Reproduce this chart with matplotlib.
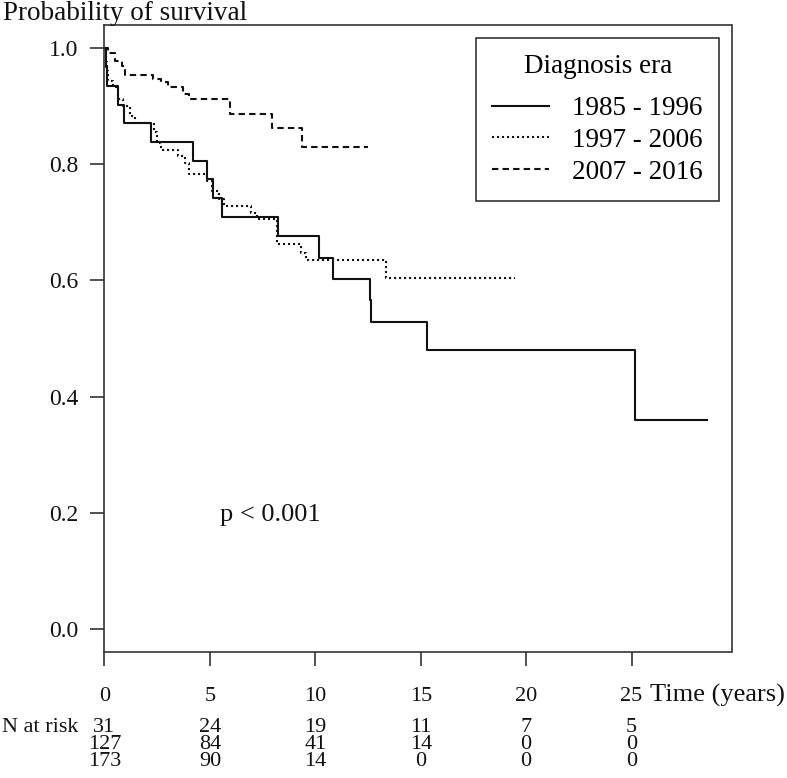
import matplotlib
matplotlib.use("Agg")
import matplotlib.pyplot as plt
from matplotlib.lines import Line2D

plt.rcParams['font.family'] = ['Liberation Serif', 'DejaVu Serif']
plt.rcParams['lines.scale_dashes'] = False

# ---- data ----
times_1985 = [0, 0.05, 0.12, 0.66, 0.93, 2.2, 4.18, 4.88, 5.13, 5.59, 8.25,
              10.17, 10.85, 12.58, 12.63, 15.32, 25.15, 28.58]
surv_1985 = [1.0, 0.968, 0.935, 0.903, 0.871, 0.839, 0.806, 0.774, 0.742, 0.710,
             0.677, 0.639, 0.603, 0.566, 0.528, 0.480, 0.360, 0.360]

times_1997 = [0, 0.05, 0.1, 0.18, 0.4, 0.66, 0.9, 1.2, 1.45, 2.35, 2.5, 2.7, 3.5,
              3.8, 4.0, 4.85, 5.1, 5.45, 5.65, 6.95, 7.25, 8.2, 9.3, 9.55, 13.35, 19.46]
surv_1997 = [1.0, 0.976, 0.96, 0.944, 0.933, 0.913, 0.90, 0.883, 0.871, 0.855, 0.837,
             0.825, 0.814, 0.803, 0.783, 0.771, 0.754, 0.740, 0.728, 0.717, 0.705,
             0.662, 0.648, 0.635, 0.604, 0.604]

times_2007 = [0, 0.18, 0.5, 0.81, 0.97, 2.32, 2.7, 3.03, 3.7, 4.0, 5.95, 7.93, 9.35, 12.51]
surv_2007 = [1.0, 0.992, 0.978, 0.970, 0.954, 0.947, 0.941, 0.933, 0.922, 0.912,
             0.886, 0.863, 0.829, 0.829]

era_labels = ["1985 - 1996", "1997 - 2006", "2007 - 2016"]
x_ticks = [0, 5, 10, 15, 20, 25]
y_ticks = [0.0, 0.2, 0.4, 0.6, 0.8, 1.0]
risk_1985 = [31, 24, 19, 11, 7, 5]
risk_1997 = [127, 84, 41, 14, 0, 0]
risk_2007 = [173, 90, 14, 0, 0, 0]

# ---- figure ----
W, H = 787, 778
fig = plt.figure(figsize=(W / 100, H / 100), dpi=100)
L, R, T, B = 104.5, 731.5, 25, 652
ax = fig.add_axes([L / W, (H - B) / H, (R - L) / W, (B - T) / H])
ax.set_xlim(0, 29.74)
ax.set_ylim(-0.04, 1.04)

col = '#111111'
lw = 1.5
dotted = (0, (1.5, 2.1))
dashed = (0, (4.6, 3.0))
ax.step(times_1985, surv_1985, where='post', color=col, lw=lw, linestyle='-')
ax.step(times_1997, surv_1997, where='post', color=col, lw=lw, linestyle=dotted)
ax.step(times_2007, surv_2007, where='post', color=col, lw=lw, linestyle=dashed)

for s in ax.spines.values():
    s.set_linewidth(1.2)
    s.set_color('#333333')

ax.set_yticks(y_ticks)
ax.set_yticklabels([f"{v:.1f}" for v in y_ticks])
ax.set_xticks(x_ticks)
ax.set_xticklabels([str(v) for v in x_ticks])
ax.tick_params(axis='both', direction='out', length=10, width=1.2, color='#333333',
               labelcolor='#111111')
ax.tick_params(axis='y', pad=9, labelsize=17)
ax.tick_params(axis='x', pad=15, labelsize=16)

# axis titles
fig.text(3 / W, 1 - 20.5 / H, "Probability of survival", fontsize=19.5,
         ha='left', va='baseline', color='#111111')
ax.text((650 - L) / (R - L), (B - 702) / (B - T), "Time (years)", transform=ax.transAxes,
        fontsize=19, ha='left', va='baseline', color='#111111', clip_on=False)

# p-value
ax.text(5.5, 0.1854, "p < 0.001", fontsize=19, ha='left', va='baseline', color='#111111')

# legend
handles = [Line2D([], [], color=col, lw=lw, linestyle='-'),
           Line2D([], [], color=col, lw=lw, linestyle=dotted),
           Line2D([], [], color=col, lw=lw, linestyle=dashed)]
fs_leg = 19.5
leg = ax.legend(handles, era_labels, title="Diagnosis era", loc='upper right',
                bbox_to_anchor=((719.3 - L) / (R - L), (B - 37.7) / (B - T)),
                borderaxespad=0, fontsize=fs_leg, title_fontsize=fs_leg, frameon=True,
                fancybox=False, edgecolor='#333333', framealpha=1,
                handlelength=2.1, handletextpad=0.85, borderpad=0.6,
                labelspacing=0.25)
leg._legend_box.sep = 12.4
leg.get_frame().set_linewidth(1.2)

# number at risk table
def ya(ypix):
    return (B - ypix) / (B - T)

ax.text((2 - L) / (R - L), ya(728), "N at risk", transform=ax.transAxes, fontsize=16,
        ha='left', va='center', color='#111111', clip_on=False)
for row, ypix in zip([risk_1985, risk_1997, risk_2007], [728, 744.5, 761]):
    for xt, n in zip(x_ticks, row):
        ax.text(xt, ya(ypix), str(n), transform=ax.get_xaxis_transform(), fontsize=16,
                ha='center', va='center', color='#111111', clip_on=False)

fig.savefig("out.png", dpi=100)
